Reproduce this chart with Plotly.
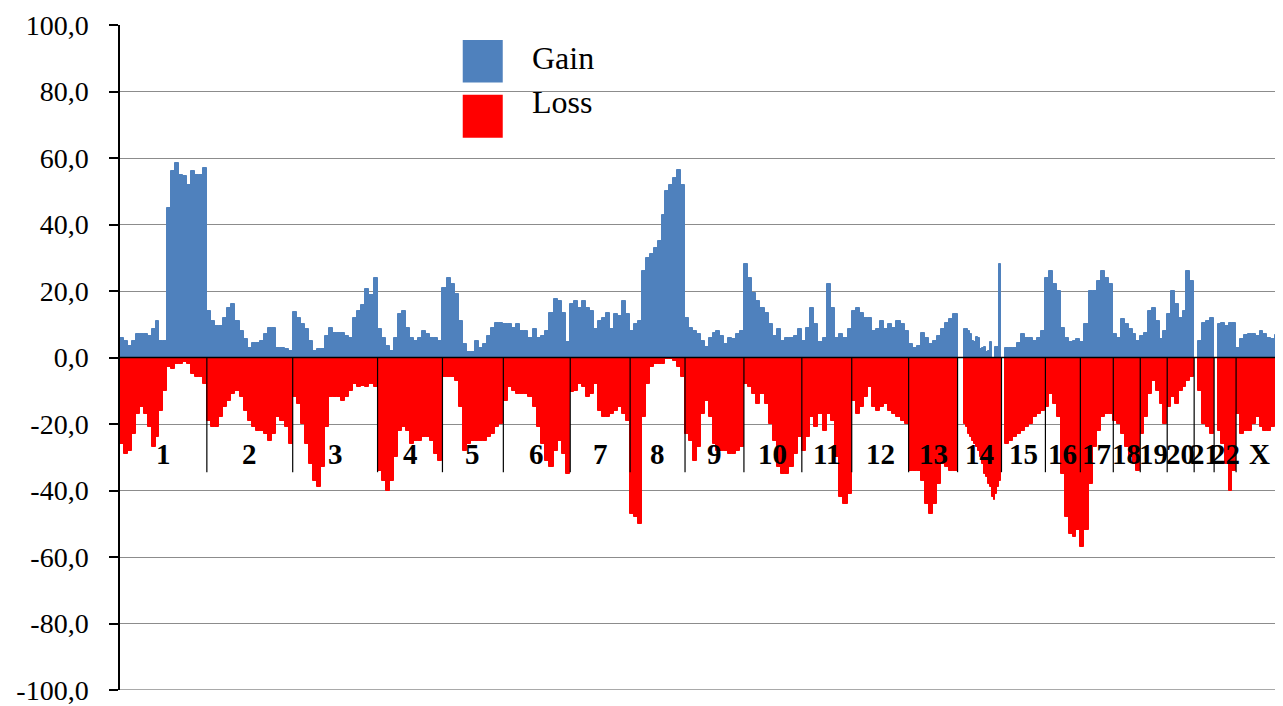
import plotly.graph_objects as go

# ---------------- data ----------------
chrom_labels = ["1", "2", "3", "4", "5", "6", "7", "8", "9", "10", "11", "12",
                "13", "14", "15", "16", "17", "18", "19", "20", "21", "22", "X"]
# relative genomic extent of each chromosome on the x axis
chrom_sizes = [87, 86, 85, 65, 61, 67, 60, 55, 59, 58, 50, 57,
               49, 44, 44, 35, 33, 27, 27, 27, 20, 22, 47]

gain_1 = [6, 5, 3.5, 5, 7, 7, 7, 6.5, 8.5, 11, 5, 5, 45, 56, 58.5, 55, 54.5, 52, 56, 55, 55, 57]
loss_1 = [-26, -29, -28, -23, -17, -15, -17, -21, -27, -24, -16, -10, -3, -3.5, -2, -2, -1.5, -2, -5, -6, -6, -8]
gain_2 = [14, 11, 9.5, 9.5, 12, 15, 16, 11, 8, 5.5, 3, 4.5, 4.5, 5, 7, 9, 9, 3, 3, 2.5, 2]
loss_2 = [-19, -21, -21, -18, -15, -13, -11, -10, -12, -16, -19, -21, -22, -22, -23, -25, -23, -18, -19, -21, -26]
gain_3 = [13.7, 12, 10, 8.5, 5, 2, 2.5, 2.5, 6.5, 9, 7.5, 7.5, 7.5, 6.5, 6, 12, 14, 15.7, 20.7, 18.7, 24]
loss_3 = [-12, -14, -20, -26, -32, -37, -39, -33, -21, -12, -12, -12, -13, -12, -10, -8, -9, -8.5, -9, -8, -9]
gain_4 = [8.5, 6, 3.5, 2, 6, 13, 14, 9, 6, 5, 6, 8, 7, 6, 6, 5]
loss_4 = [-34, -37, -40, -37, -30, -22, -21, -22, -26, -25, -25, -24, -24, -25, -29, -31]
gain_5 = [21, 24, 22, 19, 11, 4, 1.7, 1.7, 5, 3, 4, 6.5, 9, 10.5, 10.5]
loss_5 = [-6, -6, -6, -7, -15, -28, -26, -25, -25, -25, -25, -24, -23, -21, -20]
gain_6 = [10, 10, 9, 10, 8, 8, 6, 8.5, 6, 6.5, 8, 13.5, 17.5, 17, 13.5, 4.7]
loss_6 = [-13, -9, -10, -11, -11, -11, -12, -15, -21, -26, -31, -33, -28, -25, -29, -35]
gain_7 = [16, 17, 15, 17, 15, 14, 8.5, 11, 12, 13.5, 8.5, 13, 12.5, 17, 13]
loss_7 = [-10.5, -10, -8, -9, -12, -11, -8, -16, -18, -18, -17, -16, -15, -17, -19]
gain_8 = [8, 10, 11, 26, 30, 31, 33, 35, 43, 50, 52, 54, 56.5, 52]
loss_8 = [-47, -48, -50, -18, -8, -3, -2, -2, -2, -0.5, -0.5, -1, -3, -6]
gain_9 = [12, 9, 8, 7, 5, 3.2, 6, 7.5, 8, 6.5, 4, 6, 5.5, 7, 8]
loss_9 = [-23, -25, -31, -27, -17, -13, -18, -26, -28, -28, -28, -29, -29, -28, -27]
gain_10 = [28, 24, 19.5, 17, 15, 13.5, 10, 6.5, 8.5, 5, 6, 6, 6.5, 8.5]
loss_10 = [-8, -9, -11, -14, -11, -14, -20, -25, -33, -35, -35, -33, -29, -24]
gain_11 = [5, 9, 15, 10, 4.7, 6, 22, 15, 6, 7, 6, 8.5]
loss_11 = [-28, -24, -18, -21, -17, -22, -17, -19, -30, -42, -44, -41]
gain_12 = [14, 15, 13.5, 12, 12, 8, 8.5, 11, 8.5, 10, 9, 11, 10, 8]
loss_12 = [-13, -17, -15, -12, -9, -15, -16, -15, -14, -16, -17, -18, -19, -20]
gain_13 = [4, 3, 3.5, 7.5, 6, 4, 5, 6.5, 8.5, 10.5, 11.5, 13]
loss_13 = [-34, -34, -34, -37, -44, -47, -44, -38, -32, -33, -34, -34]
gain_14 = [0, 0, 0, 8.7, 8.7, 8, 7.2, 5, 4.7, 6.2, 6, 2.7, 3, 3.2, 1.7, 2, 4.7, 0, 0, 3.2, 3.2, 28]
loss_14 = [0, 0, 0, -20, -21, -23, -24, -25, -26, -27, -28, -30, -32, -35, -36, -38, -39, -42, -43, -41, -39, -37]
gain_15 = [0, 3, 3, 3, 4.5, 7, 6, 6, 5, 6, 8]
loss_15 = [0, -26, -25, -24, -23, -22, -21, -20, -18, -17, -16]
gain_16 = [24, 26, 22, 20, 9, 6, 4.7, 5, 5.5]
loss_16 = [-15, -11, -14, -18, -35, -48, -53, -54, -52]
gain_17 = [4.7, 10, 20, 20, 23, 26, 24, 22]
loss_17 = [-57, -52, -38, -27, -22, -18, -17, -17]
gain_18 = [7, 6, 11.5, 10, 8.5, 7, 5]
loss_18 = [-19, -20, -23, -27, -30, -32, -34]
gain_19 = [6.5, 7.5, 14, 15, 11, 5.5, 8]
loss_19 = [-23, -18, -11, -7, -10, -14, -20]
gain_20 = [13, 20, 16, 12, 14, 26, 23]
loss_20 = [-15, -12, -14, -10, -9, -7, -6]
gain_21 = [0, 5, 10.5, 11, 12]
loss_21 = [0, -10, -20, -21, -23]
gain_22 = [0, 10, 10.5, 9.5, 10.5, 10.5]
loss_22 = [0, -22, -26, -32, -40, -34]
gain_X = [3, 5.5, 6.7, 7.2, 7.2, 6.5, 8, 7, 6, 5.5, 6.7, 8.7]
loss_X = [-17, -23, -22, -22, -20, -18, -21, -22, -22, -21, -20, -20]

y_tick_values = [100, 80, 60, 40, 20, 0, -20, -40, -60, -80, -100]
y_tick_labels = ["100,0", "80,0", "60,0", "40,0", "20,0", "0,0",
                 "-20,0", "-40,0", "-60,0", "-80,0", "-100,0"]

gains = [gain_1, gain_2, gain_3, gain_4, gain_5, gain_6, gain_7, gain_8, gain_9, gain_10,
         gain_11, gain_12, gain_13, gain_14, gain_15, gain_16, gain_17, gain_18, gain_19,
         gain_20, gain_21, gain_22, gain_X]
losses = [loss_1, loss_2, loss_3, loss_4, loss_5, loss_6, loss_7, loss_8, loss_9, loss_10,
          loss_11, loss_12, loss_13, loss_14, loss_15, loss_16, loss_17, loss_18, loss_19,
          loss_20, loss_21, loss_22, loss_X]

# ---------------- build bins ----------------
def bins(values_list):
    xs, ws, ys = [], [], []
    pos = 0
    for size, vals in zip(chrom_sizes, values_list):
        w = size / len(vals)
        for i, v in enumerate(vals):
            xs.append(pos + (i + 0.5) * w)
            ws.append(w)
            ys.append(v)
        pos += size
    return xs, ws, ys

gx, gw, gy = bins(gains)
lx, lw, ly = bins(losses)

starts = []
pos = 0
for s in chrom_sizes:
    starts.append(pos)
    pos += s
total = pos

BLUE = "#4F81BD"
RED = "#FF0000"
GRID = "#8c8c8c"
SERIF = "Liberation Serif, Times New Roman, serif"

fig = go.Figure()
fig.add_trace(go.Bar(x=gx, y=gy, width=gw, name="Gain",
                     marker=dict(color=BLUE, line=dict(width=1, color=BLUE))))
fig.add_trace(go.Bar(x=lx, y=ly, width=lw, name="Loss",
                     marker=dict(color=RED, line=dict(width=1, color=RED))))

# chromosome separators
sep_x, sep_y = [], []
for b in starts[1:]:
    sep_x += [b, b, None]
    sep_y += [0, -34.5, None]
fig.add_trace(go.Scatter(x=sep_x, y=sep_y, mode="lines",
                         line=dict(color="black", width=1.2),
                         hoverinfo="skip", showlegend=False))

annotations = []
for lab, st, sz in zip(chrom_labels, starts, chrom_sizes):
    annotations.append(dict(x=st + sz / 2, y=-29, xref="x", yref="y", text=lab,
                            showarrow=False, xanchor="center", yanchor="middle",
                            font=dict(family=SERIF, size=29, color="black", weight="bold")))

# legend (drawn manually to match large swatches)
shapes = [
    dict(type="rect", xref="paper", yref="paper", x0=0.2947, x1=0.3291, y0=0.9135, y1=0.9775,
         fillcolor=BLUE, line=dict(width=0), layer="above"),
    dict(type="rect", xref="paper", yref="paper", x0=0.2947, x1=0.3291, y0=0.8306, y1=0.8951,
         fillcolor=RED, line=dict(width=0), layer="above"),
    dict(type="line", xref="paper", yref="y", x0=0, x1=1, y0=0, y1=0,
         line=dict(color="black", width=1.5), layer="above"),
    dict(type="line", xref="paper", yref="y", x0=0, x1=1, y0=-100, y1=-100,
         line=dict(color=GRID, width=1.3), layer="below"),
]
annotations.append(dict(x=0.3525, y=0.950, xref="paper", yref="paper", text="Gain",
                        showarrow=False, xanchor="left", yanchor="middle",
                        font=dict(family=SERIF, size=32, color="black")))
annotations.append(dict(x=0.3525, y=0.884, xref="paper", yref="paper", text="Loss",
                        showarrow=False, xanchor="left", yanchor="middle",
                        font=dict(family=SERIF, size=32, color="black")))

# the page body adds an 8px offset, so the figure is sized to end at the window edge
fig.update_layout(
    width=1275, height=698, autosize=False,
    margin=dict(l=112, r=0, t=17, b=14),
    paper_bgcolor="white", plot_bgcolor="white",
    barmode="overlay", bargap=0, showlegend=False,
    shapes=shapes, annotations=annotations,
    xaxis=dict(range=[0, total], visible=False, fixedrange=True),
    yaxis=dict(range=[-100, 100], tickvals=y_tick_values, ticktext=y_tick_labels,
               showgrid=True, gridcolor=GRID, gridwidth=1.3,
               showline=True, linecolor="black", linewidth=1.5,
               ticks="outside", ticklen=9, tickwidth=1.5, tickcolor="black",
               tickfont=dict(family=SERIF, size=28, color="black"),
               ticklabelstandoff=15, ticklabeloverflow="allow",
               zeroline=False, fixedrange=True),
)

fig.write_html("out.html")
